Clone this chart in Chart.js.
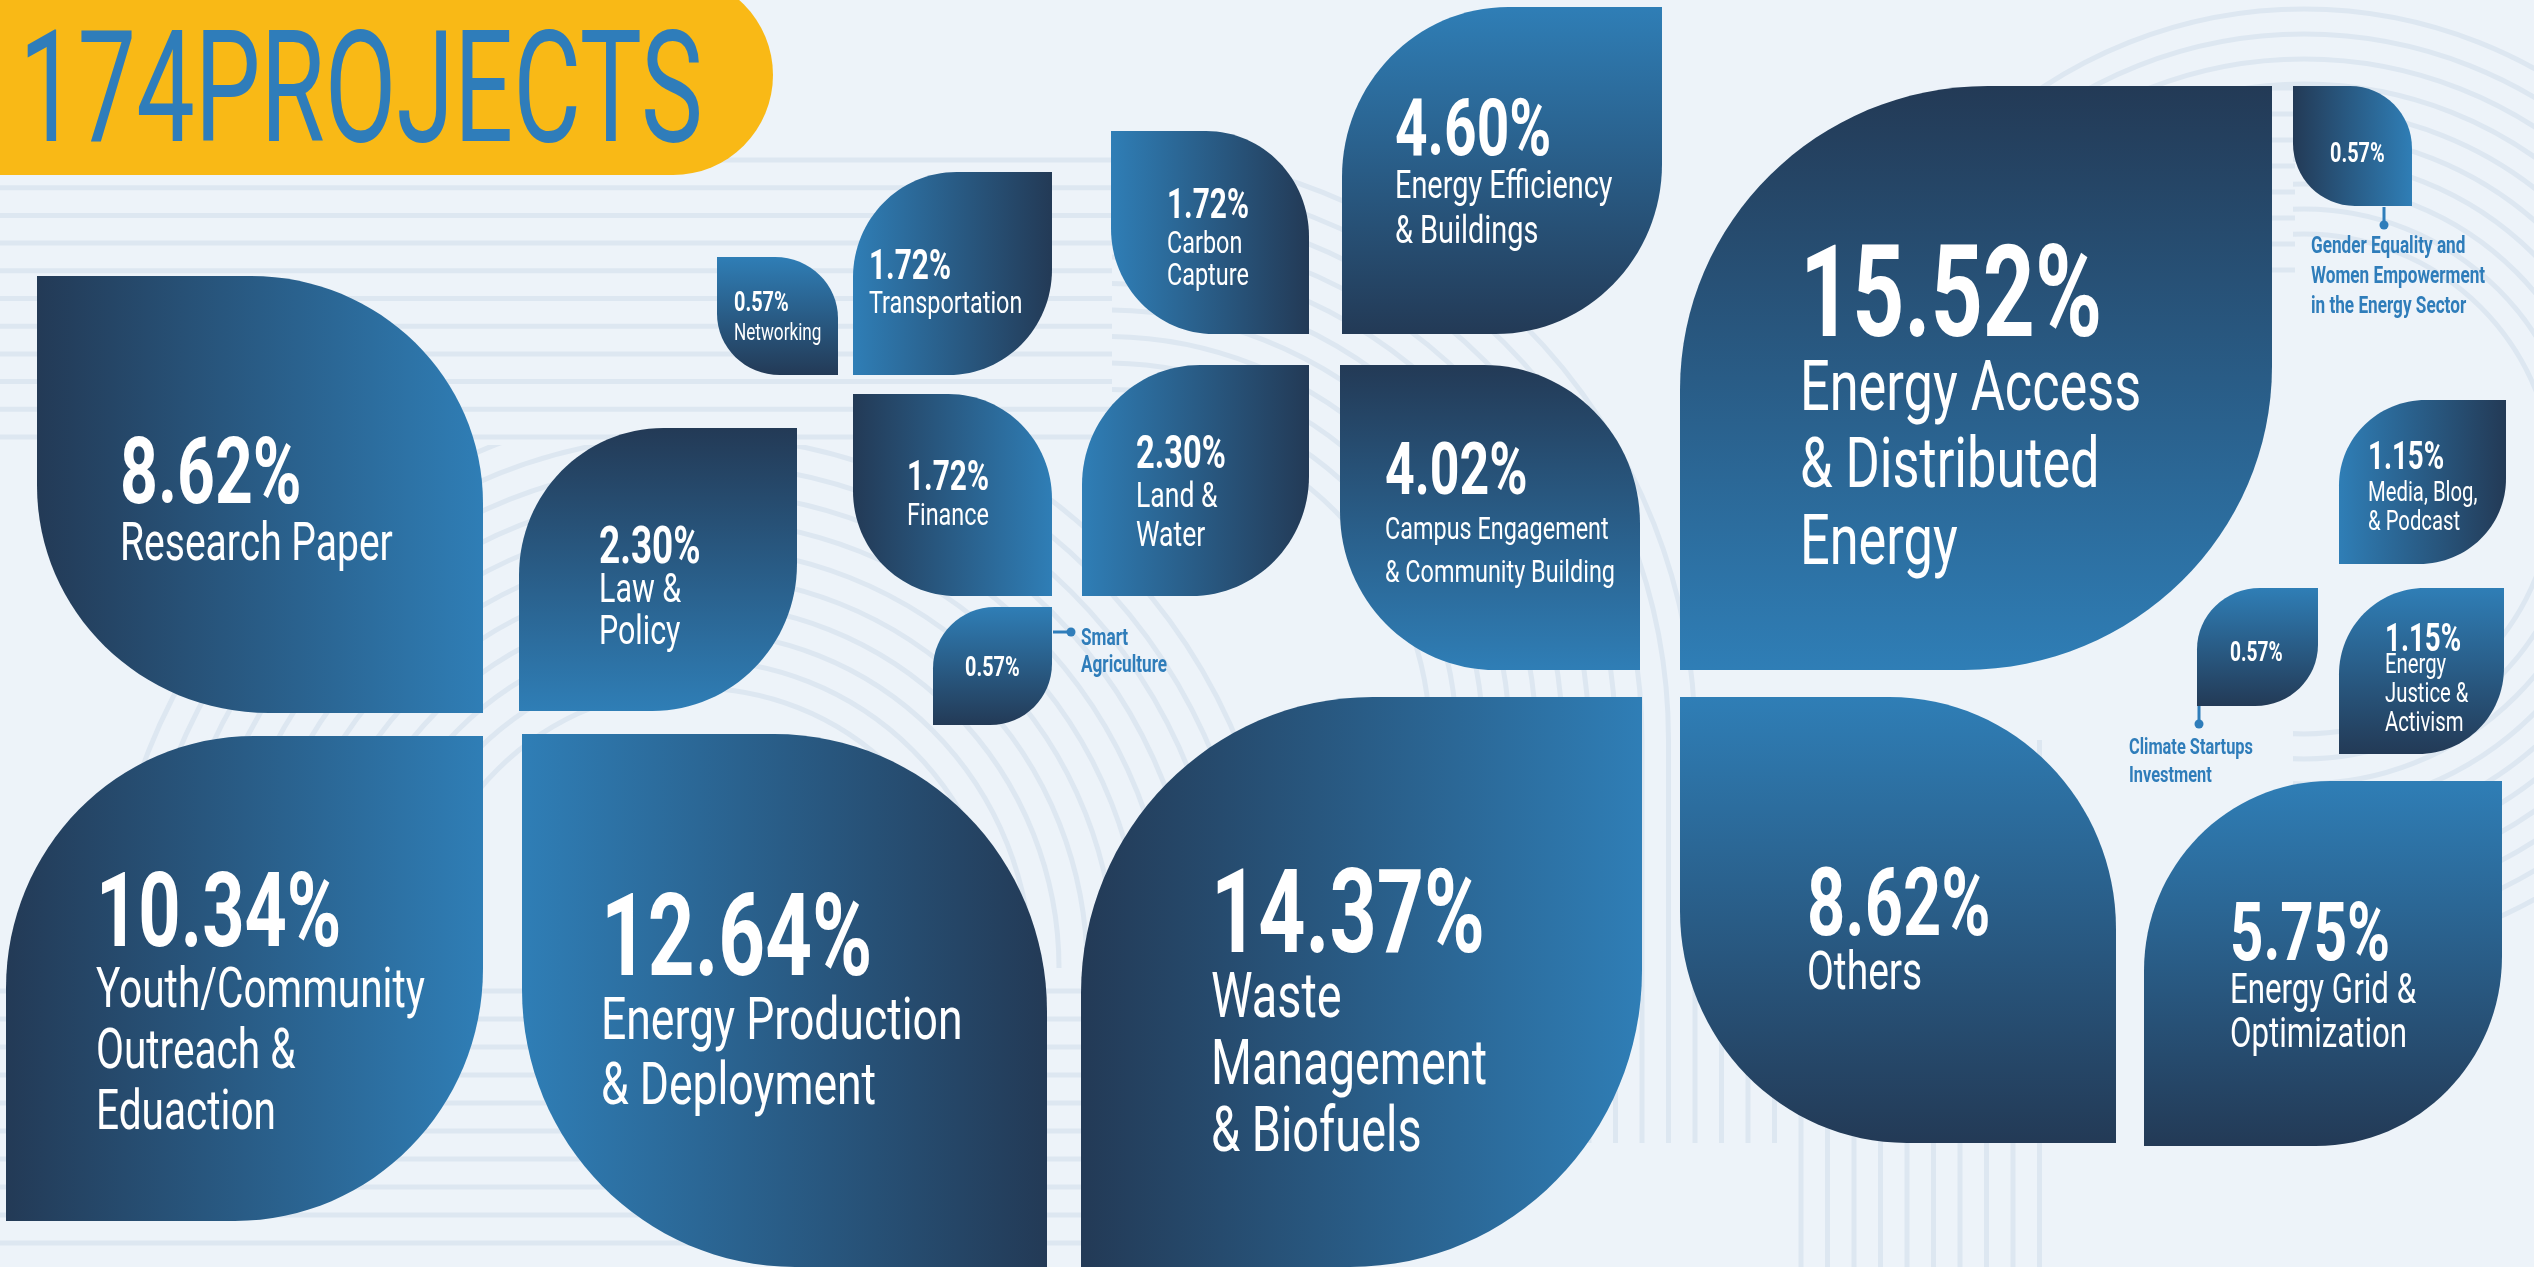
<!DOCTYPE html>
<html>
<head>
<meta charset="utf-8">
<script src="https://cdn.jsdelivr.net/npm/chart.js@4.4.1/dist/chart.umd.min.js"></script>
<style>
html,body{margin:0;padding:0;background:#edf3f9;overflow:hidden}
canvas{display:block}
</style>
</head>
<body>
<canvas id="leaves" width="2534" height="1267"></canvas>
<script>
var W=2534, H=1267;

// ---- data ----
var totalProjects=174;
var categories=[
  'Energy Access\n& Distributed\nEnergy',
  'Waste\nManagement\n& Biofuels',
  'Energy Production\n& Deployment',
  'Youth/Community\nOutreach &\nEduaction',
  'Research Paper',
  'Others',
  'Energy Grid &\nOptimization',
  'Energy Efficiency\n& Buildings',
  'Campus Engagement\n& Community Building',
  'Law &\nPolicy',
  'Land &\nWater',
  'Transportation',
  'Carbon\nCapture',
  'Finance',
  'Media, Blog,\n& Podcast',
  'Energy\nJustice &\nActivism',
  'Networking',
  'Smart\nAgriculture',
  'Gender Equality and\nWomen Empowerment\nin the Energy Sector',
  'Climate Startups\nInvestment'
];
var shares=[15.52,14.37,12.64,10.34,8.62,8.62,5.75,4.60,4.02,2.30,2.30,1.72,1.72,1.72,1.15,1.15,0.57,0.57,0.57,0.57];

// ---- layout (scale units = px) ----
// x, y, w, h of each leaf
var leafBox=[
  [1680,86,592,584],[1081,697,561,570],[522,734,525,533],[6,736,477,485],
  [37,276,446,437],[1680,697,436,446],[2144,781,358,365],[1342,7,320,327],
  [1340,365,300,305],[519,428,278,283],[1082,365,227,231],[853,172,199,203],
  [1111,131,198,203],[853,394,199,202],[2339,400,167,164],[2339,588,165,166],
  [717,257,121,118],[933,607,119,118],[2293,86,119,120],[2197,588,121,118]
];
// A = round top-left & bottom-right, B = round top-right & bottom-left
var leafCut=['A','A','B','A','B','B','A','A','B','A','A','A','B','B','A','A','B','A','B','A'];
// side of the leaf where the gradient is light
var leafLight=['B','R','L','R','R','T','T','T','B','B','L','L','L','R','L','T','T','T','R','T'];
// value x, value baseline, value size, label x, first label baseline, label size, line height
var textPos=[
  [1800,336,128,1800,410,67,77],[1211,952,116,1211,1017,60,67],[601,975,115,601,1039,57,65],
  [96,946,104,96,1007,52,61],[120,503,93,120,560,50,0],[1807,935,94,1807,989,50,0],
  [2230,960,82,2230,1003,40,44],[1395,155,80,1395,198,37,45],[1385,494,73,1385,539,30,43],
  [599,563,52,599,602,39,42],[1136,468,46,1136,507,34,39],[869,279,42,869,313,30,0],
  [1167,218,42,1167,253,30,32],[907,490,42,907,525,30,0],[2368,469,39,2368,501,26,29],
  [2385,651,39,2385,673,26,29],[734,311,28,734,340,22,0],[965,676,28,1081,645,22,27],
  [2330,162,28,2311,253,22,30],[2230,661,27,2129,754,21,28]
];
// leaders for labels written outside their leaf
var leader={17:[1053,632,1071,632],18:[2384,207,2384,225],19:[2199,706,2199,724]};

var LIGHT='#2f7eb6', DARK='#233a56', INK='#2f7dba';
var VAL_SX=0.71, LBL_SX=0.74, LBL_GROW=1.055;

function txt(c,s,x,y,size,weight,sx,color){
  c.save();
  c.translate(x,y);
  c.scale(sx,1);
  c.font=weight+' '+size+'px Roboto, "Liberation Sans", sans-serif';
  c.fillStyle=color;
  c.textBaseline='alphabetic';
  c.textAlign='left';
  c.fillText(s,0,0);
  c.restore();
}

function leafPath(c,x,y,w,h,cut){
  var k=0.52, rx=w*k, ry=h*k, q=0.5523;
  c.beginPath();
  if(cut==='A'){
    c.moveTo(x+rx,y);
    c.lineTo(x+w,y);
    c.lineTo(x+w,y+h-ry);
    c.bezierCurveTo(x+w,y+h-ry+ry*q,x+w-rx+rx*q,y+h,x+w-rx,y+h);
    c.lineTo(x,y+h);
    c.lineTo(x,y+ry);
    c.bezierCurveTo(x,y+ry-ry*q,x+rx-rx*q,y,x+rx,y);
  }else{
    c.moveTo(x,y);
    c.lineTo(x+w-rx,y);
    c.bezierCurveTo(x+w-rx+rx*q,y,x+w,y+ry-ry*q,x+w,y+ry);
    c.lineTo(x+w,y+h);
    c.lineTo(x+rx,y+h);
    c.bezierCurveTo(x+rx-rx*q,y+h,x,y+h-ry+ry*q,x,y+h-ry);
  }
  c.closePath();
}

var backdrop={
  id:'backdrop',
  beforeDraw:function(chart){
    var c=chart.ctx, x, y, r;
    c.save();
    c.fillStyle='#edf3f9';
    c.fillRect(0,0,W,H);
    c.strokeStyle='#dde7f1';
    c.lineWidth=5;
    c.beginPath();
    for(y=160;y<445;y+=27.7){c.moveTo(0,y);c.lineTo(1112,y);}
    for(y=88;y<290;y+=26){c.moveTo(2270,y);c.lineTo(2295,y);}
    for(y=991;y<H;y+=28){c.moveTo(0,y);c.lineTo(1100,y);}
    for(x=1430;x<2060;x+=26.5){c.moveTo(x,740);c.lineTo(x,x<1787?1143:H);}
    c.stroke();
    // rings round the lower-left cluster
    c.save();
    c.beginPath();c.rect(0,445,W,523);c.clip();
    for(r=280;r<=600;r+=28){c.beginPath();c.arc(695,968,r,Math.PI,2*Math.PI);c.stroke();}
    c.restore();
    // rings through the middle gaps
    c.save();
    c.beginPath();c.rect(1112,0,W,740);c.clip();
    for(r=324;r<=600;r+=26.5){c.beginPath();c.arc(1106,740,r,-Math.PI/2,0);c.stroke();}
    c.restore();
    // rings at top right
    c.save();
    c.beginPath();c.rect(2293,0,W,H);c.rect(1900,0,400,86);c.clip();
    for(r=250;r<=475;r+=25){c.beginPath();c.arc(2304,484,r,0,2*Math.PI);c.stroke();}
    c.restore();
    // banner
    c.fillStyle='#f9b916';
    c.beginPath();
    c.moveTo(-10,-25);c.lineTo(673,-25);
    c.arcTo(773,-25,773,75,100);
    c.arcTo(773,175,673,175,100);
    c.lineTo(-10,175);
    c.closePath();
    c.fill();
    var title=totalProjects+'PROJECTS';
    c.font='400 156px Roboto, sans-serif';
    var tw=c.measureText(title).width;
    txt(c,title,19,141,156,400,684/tw,INK);
    c.restore();
  }
};

var leafDraw={
  id:'leafDraw',
  afterDatasetsDraw:function(chart){
    var c=chart.ctx, sx=chart.scales.x, sy=chart.scales.y;
    c.save();
    shares.forEach(function(v,i){
      var b=leafBox[i];
      var x0=sx.getPixelForValue(b[0]), x1=sx.getPixelForValue(b[0]+b[2]);
      var y0=sy.getPixelForValue(b[1]), y1=sy.getPixelForValue(b[1]+b[3]);
      var g, s=leafLight[i];
      if(s==='L') g=c.createLinearGradient(x0,0,x1,0);
      else if(s==='R') g=c.createLinearGradient(x1,0,x0,0);
      else if(s==='T') g=c.createLinearGradient(0,y0,0,y1);
      else g=c.createLinearGradient(0,y1,0,y0);
      g.addColorStop(0,LIGHT);
      g.addColorStop(1,DARK);
      leafPath(c,x0,y0,x1-x0,y1-y0,leafCut[i]);
      c.fillStyle=g;
      c.fill();

      var t=textPos[i];
      txt(c,v.toFixed(2)+'%',sx.getPixelForValue(t[0]),sy.getPixelForValue(t[1]),t[2],700,VAL_SX,'#ffffff');
      var lines=categories[i].split('\n');
      var out=leader[i];
      lines.forEach(function(line,j){
        txt(c,line,sx.getPixelForValue(t[3]),sy.getPixelForValue(t[4]+j*t[6]),t[5]*LBL_GROW,out?700:400,LBL_SX,out?INK:'#ffffff');
      });
      if(out){
        c.strokeStyle=INK;c.fillStyle=INK;c.lineWidth=3;
        c.beginPath();
        c.moveTo(sx.getPixelForValue(out[0]),sy.getPixelForValue(out[1]));
        c.lineTo(sx.getPixelForValue(out[2]),sy.getPixelForValue(out[3]));
        c.stroke();
        c.beginPath();
        c.arc(sx.getPixelForValue(out[2]),sy.getPixelForValue(out[3]),4.5,0,2*Math.PI);
        c.fill();
      }
    });
    c.restore();
  }
};

new Chart(document.getElementById('leaves'),{
  type:'scatter',
  data:{datasets:[{
    label:'Share of projects',
    data:shares.map(function(v,i){return {x:leafBox[i][0]+leafBox[i][2]/2,y:leafBox[i][1]+leafBox[i][3]/2,share:v};}),
    pointRadius:0,pointHoverRadius:0
  }]},
  options:{
    responsive:false,
    animation:false,
    events:[],
    layout:{padding:0},
    plugins:{legend:{display:false},tooltip:{enabled:false},title:{display:false}},
    scales:{
      x:{type:'linear',min:0,max:W,display:false},
      y:{type:'linear',min:0,max:H,reverse:true,display:false}
    }
  },
  plugins:[backdrop,leafDraw]
});
</script>
</body>
</html>
